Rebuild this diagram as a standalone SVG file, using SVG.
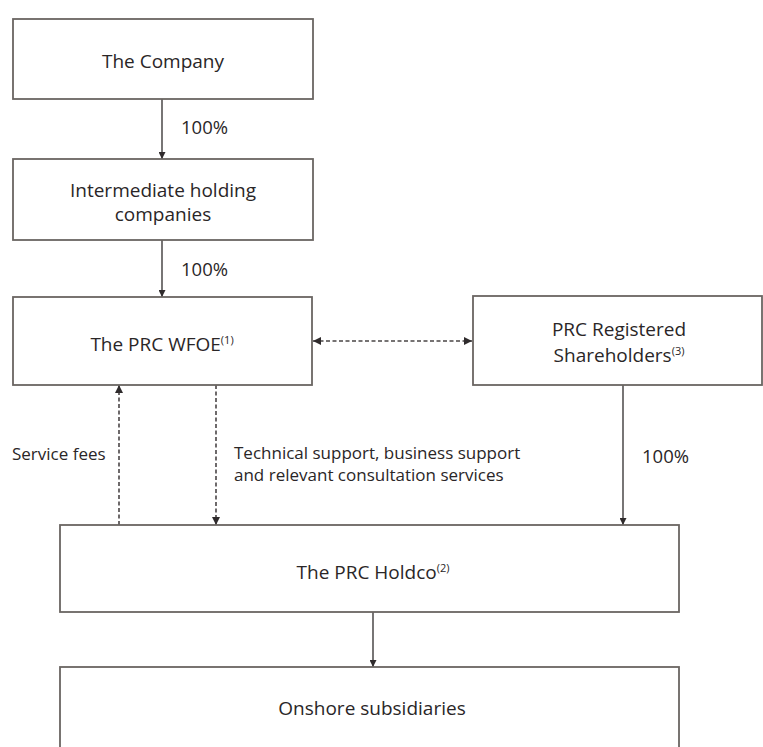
<svg xmlns="http://www.w3.org/2000/svg" width="763" height="747" viewBox="0 0 763 747">
<defs>
<style>
.box{fill:#ffffff;stroke:#6a6562;stroke-width:1.8}
.t{font-family:"Open Sans","Liberation Sans",Arial,sans-serif;font-size:19px;fill:#2a2627;text-anchor:middle}
.l{font-family:"Open Sans","Liberation Sans",Arial,sans-serif;font-size:17px;fill:#2a2627}
.p{font-size:18.5px}
.sup{font-size:11px}
.solid{stroke:#2f2b2c;stroke-width:1.3;fill:none}
.dash{stroke:#4a4546;stroke-width:1.6;fill:none;stroke-dasharray:4 2.5}
</style>
<marker id="ah" viewBox="0 0 10 10" refX="10" refY="5" markerWidth="7" markerHeight="7" markerUnits="userSpaceOnUse" orient="auto">
<path d="M0,0 L10,5 L0,10 z" fill="#2f2b2c"/>
</marker>
<marker id="ahs" viewBox="0 0 10 10" refX="10" refY="5" markerWidth="8" markerHeight="8" markerUnits="userSpaceOnUse" orient="auto-start-reverse">
<path d="M0,0 L10,5 L0,10 z" fill="#2f2b2c"/>
</marker>
</defs>
<rect width="763" height="747" fill="#ffffff"/>

<g id="connectors">
<line class="solid" x1="162" y1="99" x2="162" y2="159" marker-end="url(#ah)"/>
<line class="solid" x1="162" y1="240" x2="162" y2="297" marker-end="url(#ah)"/>
<line class="dash" x1="313" y1="341" x2="472" y2="341" marker-start="url(#ahs)" marker-end="url(#ahs)"/>
<line class="solid" x1="623" y1="385" x2="623" y2="525" marker-end="url(#ah)"/>
<line class="dash" x1="119" y1="525" x2="119" y2="385" marker-end="url(#ahs)"/>
<line class="dash" x1="216" y1="385" x2="216" y2="525" marker-end="url(#ahs)"/>
<line class="solid" x1="373" y1="612" x2="373" y2="667" marker-end="url(#ah)"/>
<text class="l p" x="181" y="134">100%</text>
<text class="l p" x="181" y="276">100%</text>
<text class="l p" x="642" y="463">100%</text>
<text class="l" x="12" y="460">Service fees</text>
<text class="l" x="234" y="459">Technical support, business support</text>
<text class="l" x="234" y="481">and relevant consultation services</text>
</g>

<g id="company">
<rect class="box" x="13" y="19" width="300" height="80"/>
<text class="t" x="163" y="68">The Company</text>
</g>
<g id="intermediate">
<rect class="box" x="13" y="159" width="300" height="81"/>
<text class="t" x="163" y="197">Intermediate holding</text>
<text class="t" x="163" y="221">companies</text>
</g>
<g id="wfoe">
<rect class="box" x="13" y="297" width="299" height="88"/>
<text class="t" x="162" y="351">The PRC WFOE<tspan class="sup" dy="-7">(1)</tspan></text>
</g>
<g id="registered">
<rect class="box" x="473" y="296" width="289" height="89"/>
<text class="t" x="619" y="336">PRC Registered</text>
<text class="t" x="619" y="362">Shareholders<tspan class="sup" dy="-7">(3)</tspan></text>
</g>
<g id="holdco">
<rect class="box" x="60" y="525" width="619" height="87"/>
<text class="t" x="373" y="579">The PRC Holdco<tspan class="sup" dy="-7">(2)</tspan></text>
</g>
<g id="onshore">
<rect class="box" x="60" y="667" width="619" height="100"/>
<text class="t" x="372" y="715">Onshore subsidiaries</text>
</g>
</svg>
